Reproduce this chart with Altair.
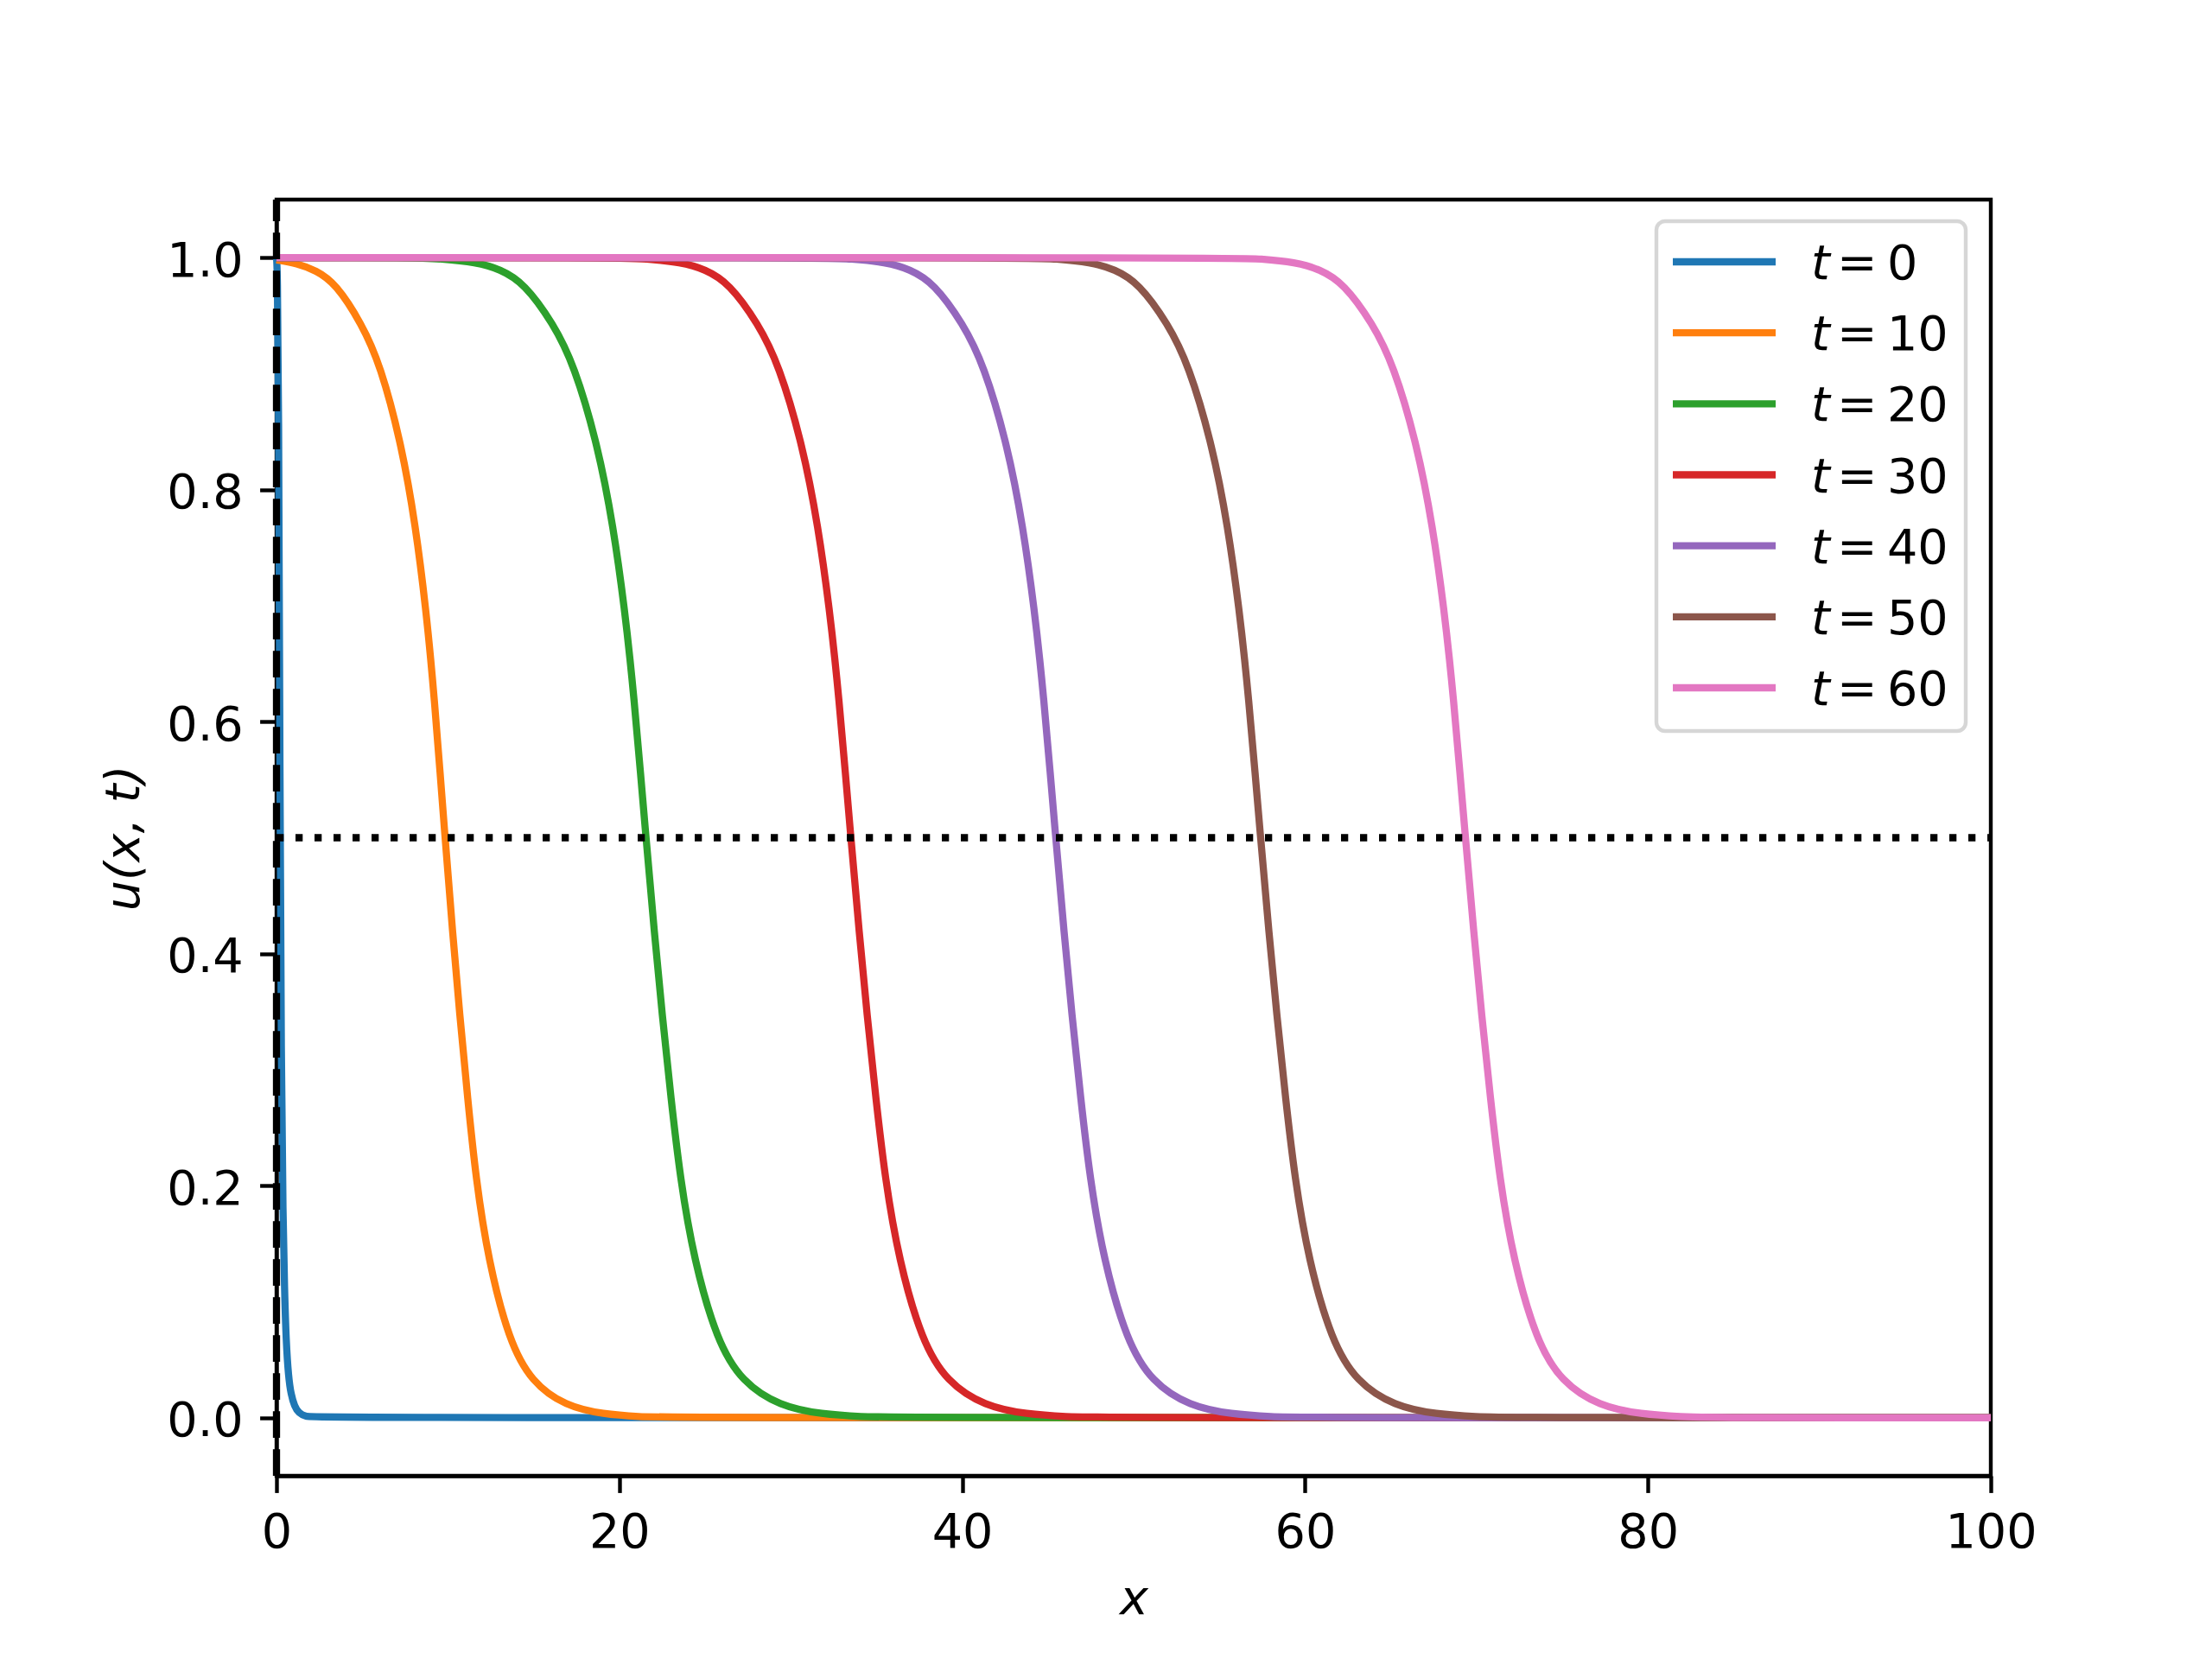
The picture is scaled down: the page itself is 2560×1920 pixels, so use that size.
import altair as alt
import pandas as pd

# ---- data ----
T_VALUES = [0, 10, 20, 30, 40, 50, 60]
COLORS = ["#1f77b4", "#ff7f0e", "#2ca02c", "#d62728", "#9467bd", "#8c564b", "#e377c2"]

X_T0 = [0, 0.05, 0.12, 0.2, 0.28, 0.38, 0.47, 0.56, 0.7, 0.85, 1.05, 1.3, 1.7, 2.3, 100]
U_T0 = [1.0, 0.99, 0.9, 0.55, 0.3, 0.17, 0.11, 0.066, 0.035, 0.02, 0.01, 0.004, 0.001, 0.0, 0.0]

X_T10 = [0, 1.2, 2.3, 3.44, 4.97, 6.05, 7.31, 8.12, 8.71, 9.18, 9.83, 10.28, 10.69, 11.14, 11.63,
         12.35, 13.57, 14.87, 16.85, 19.1, 21.1, 23.3, 100]
U_T10 = [0.998, 0.995, 0.989, 0.978, 0.943, 0.908, 0.838, 0.768, 0.698, 0.627, 0.5, 0.417,
         0.347, 0.277, 0.206, 0.136, 0.066, 0.031, 0.01, 0.003, 0.001, 0.0, 0.0]

# u levels sampled along each later front
U_FRONT = [1.0, 1.0, 0.999, 0.996, 0.99, 0.978, 0.943, 0.908, 0.838, 0.768, 0.698, 0.627,
           0.5, 0.417, 0.347, 0.277, 0.206, 0.136, 0.066, 0.031, 0.01, 0.003, 0.001, 0.0, 0.0]

X_T20 = [0, 8.05, 9.55, 11.65, 13.05, 14.45, 16.15, 17.35, 18.75, 19.65, 20.3, 20.83, 21.55,
         22.05, 22.5, 23.0, 23.55, 24.35, 25.7, 27.15, 29.35, 31.85, 34.05, 36.55, 100]
X_T30 = [0, 20.0, 21.5, 23.6, 25.0, 26.4, 28.1, 29.3, 30.7, 31.6, 32.25, 32.78, 33.5,
         34.0, 34.45, 34.95, 35.5, 36.3, 37.65, 39.1, 41.3, 43.8, 46.0, 48.5, 100]
X_T40 = [0, 31.95, 33.45, 35.55, 36.95, 38.35, 40.05, 41.25, 42.65, 43.55, 44.2, 44.73, 45.45,
         45.95, 46.4, 46.9, 47.45, 48.25, 49.6, 51.05, 53.25, 55.75, 57.95, 60.45, 100]
X_T50 = [0, 43.9, 45.4, 47.5, 48.9, 50.3, 52.0, 53.2, 54.6, 55.5, 56.15, 56.68, 57.4,
         57.9, 58.35, 58.85, 59.4, 60.2, 61.55, 63.0, 65.2, 67.7, 69.9, 72.4, 100]
X_T60 = [0, 55.85, 57.35, 59.45, 60.85, 62.25, 63.95, 65.15, 66.55, 67.45, 68.1, 68.63, 69.35,
         69.85, 70.3, 70.8, 71.35, 72.15, 73.5, 74.95, 77.15, 79.65, 81.85, 84.35, 100]

SERIES = [
    (X_T0, U_T0),
    (X_T10, U_T10),
    (X_T20, U_FRONT),
    (X_T30, U_FRONT),
    (X_T40, U_FRONT),
    (X_T50, U_FRONT),
    (X_T60, U_FRONT),
]

X_TICKS = [0, 20, 40, 60, 80, 100]
Y_TICKS = [0.0, 0.2, 0.4, 0.6, 0.8, 1.0]
X_DOMAIN = [0, 100]
Y_DOMAIN = [-0.05, 1.05]
HALF_LEVEL = 0.5
WALL_X = 0

# ---- styling ----
FS = 55.6
LW = 8.3
THIN = 4.4

x_scale = alt.Scale(domain=X_DOMAIN, nice=False, zero=False)
y_scale = alt.Scale(domain=Y_DOMAIN, nice=False, zero=False)

x_axis = alt.Axis(values=X_TICKS, format="d", title="x", titleFontStyle="italic",
                  titleBaseline="alphabetic", titleY=159, labelPadding=19.4)
y_axis = alt.Axis(values=Y_TICKS, format=".1f", title="u(x, t)", titleFontStyle="italic",
                  titleAngle=270, titleBaseline="alphabetic", titleAlign="center",
                  titleX=-160, titleY=738.5, labelBaseline="alphabetic", labelOffset=21,
                  labelPadding=19.4)

x_enc = alt.X("x:Q", scale=x_scale, axis=x_axis)
y_enc = alt.Y("u:Q", scale=y_scale, axis=y_axis)

line_layers = []
for (xs, us), c in zip(SERIES, COLORS):
    df = pd.DataFrame({"x": xs, "u": us})
    line_layers.append(
        alt.Chart(df).mark_line(color=c, strokeWidth=LW, interpolate="basis",
                                strokeJoin="round", strokeCap="butt")
        .encode(x=x_enc, y=y_enc)
    )

hline = alt.Chart(pd.DataFrame({"u": [HALF_LEVEL], "x": [X_DOMAIN[0]], "x2": [X_DOMAIN[1]]})).mark_rule(
    color="black", strokeWidth=LW, strokeDash=[8.3, 13.7]
).encode(x=x_enc, x2="x2:Q", y=y_enc)

vline = alt.Chart(pd.DataFrame({"x": [WALL_X], "u": [Y_DOMAIN[0]], "u2": [Y_DOMAIN[1]]})).mark_rule(
    color="black", strokeWidth=LW, strokeDash=[30.7, 13.3]
).encode(x=x_enc, y=y_enc, y2="u2:Q")

main = alt.layer(*line_layers, hline, vline)

# ---- legend (drawn as marks so the t can be italic) ----
leg_df = pd.DataFrame({
    "row": list(range(len(T_VALUES))),
    "label": [str(t) for t in T_VALUES],
    "color": COLORS,
})
row_y = alt.Y("row:Q", scale=alt.Scale(domain=[0, len(T_VALUES) - 1], range=[72, 565]), axis=None)

frame = alt.Chart(pd.DataFrame({"k": [0]})).mark_rect(
    fill="white", fillOpacity=0.8, stroke="#cccccc", strokeOpacity=0.8,
    strokeWidth=THIN, cornerRadius=10
).encode(x=alt.value(1597), x2=alt.value(1955), y=alt.value(25), y2=alt.value(615))

handles = alt.Chart(leg_df).mark_rule(strokeWidth=LW).encode(
    x=alt.value(1616), x2=alt.value(1735), y=row_y,
    color=alt.Color("color:N", scale=None, legend=None)
)
t_txt = alt.Chart(leg_df).mark_text(
    text="t", fontStyle="italic", fontSize=FS, align="left", baseline="alphabetic", dy=20,
    color="black"
).encode(x=alt.value(1776), y=row_y)
eq_txt = alt.Chart(leg_df).mark_text(
    text="=", fontSize=FS, align="left", baseline="alphabetic", dy=20, color="black"
).encode(x=alt.value(1806), y=row_y)
num_txt = alt.Chart(leg_df).mark_text(
    fontSize=FS, align="left", baseline="alphabetic", dy=20, color="black"
).encode(x=alt.value(1864), y=row_y, text="label:N")

legend = alt.layer(frame, handles, t_txt, eq_txt, num_txt)

chart = (
    alt.layer(main, legend)
    .resolve_scale(y="independent", color="independent")
    .properties(
        width=1984, height=1477,
        autosize=alt.AutoSizeParams(type="none"),
        padding={"left": 312, "top": 223, "right": 248, "bottom": 204},
        background="white",
    )
    .configure(font="DejaVu Sans")
    .configure_view(stroke="black", strokeWidth=THIN)
    .configure_axis(
        grid=False, domainColor="black", domainWidth=THIN, tickColor="black",
        tickWidth=THIN, tickSize=19.4, labelFontSize=FS, labelColor="black",
        labelFont="DejaVu Sans", titleFont="DejaVu Sans", titleFontSize=FS,
        titleColor="black", titleFontWeight="normal", zindex=1, labelFlush=False,
        labelOverlap=False
    )
)

chart.save("out.html", embed_options={"renderer": "svg", "actions": False})
